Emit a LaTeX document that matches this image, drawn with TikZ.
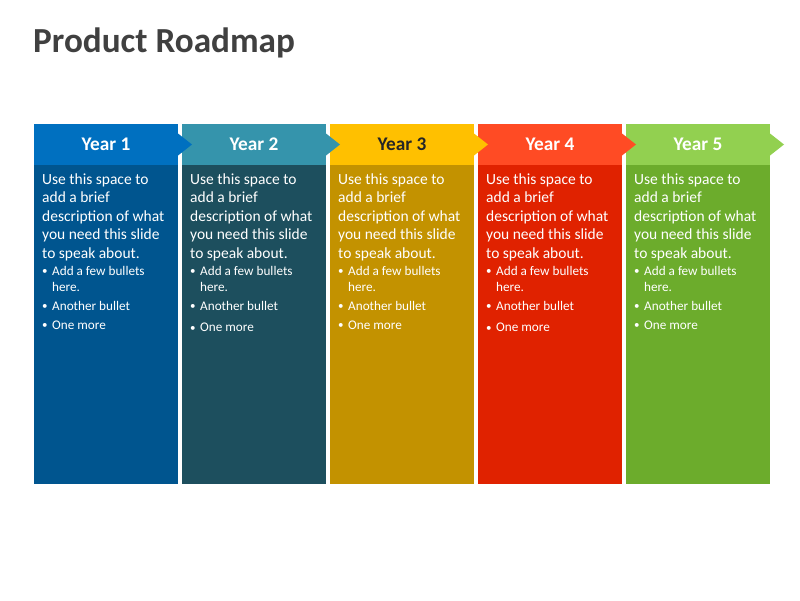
\documentclass[tikz,border=0pt]{standalone}
\usepackage{fontspec}
\setmainfont{Carlito}
\definecolor{titlegray}{HTML}{404040}
\definecolor{h1}{HTML}{0070C0}\definecolor{b1}{HTML}{00558F}
\definecolor{h2}{HTML}{3594AC}\definecolor{b2}{HTML}{1D4F5E}
\definecolor{h3}{HTML}{FFC000}\definecolor{b3}{HTML}{C39200}
\definecolor{h4}{HTML}{FF4B24}\definecolor{b4}{HTML}{E02200}
\definecolor{h5}{HTML}{92D050}\definecolor{b5}{HTML}{6CAC2C}
\definecolor{dark3}{HTML}{262626}
\tikzset{
  bodytxt/.style={anchor=base west, inner sep=0, text=white, font=\fontsize{15.5}{18}\selectfont},
  bullettxt/.style={anchor=base west, inner sep=0, text=white, font=\fontsize{13.2}{15}\selectfont},
  dottxt/.style={anchor=base west, inner sep=0, text=white, font=\fontsize{11}{13}\selectfont},
  yeartxt/.style={anchor=base, inner sep=0, font=\fontsize{19.3}{23}\selectfont\bfseries},
}
\begin{document}
\begin{tikzpicture}[x=1pt,y=-1pt]
\useasboundingbox[fill=white] (0,0) rectangle (800,600);
\node[anchor=base west, inner sep=0, text=titlegray, font=\fontsize{35.2}{40}\selectfont\bfseries] (title) at (33,52) {Product Roadmap};
% columns
\foreach \i/\hc/\bc in {1/h1/b1,2/h2/b2,3/h3/b3,4/h4/b4,5/h5/b5}{
  \pgfmathsetmacro\L{34+148*(\i-1)}
  \fill[\bc] (\L,165) rectangle ++(144,319);
  \fill[\hc] (\L,124) rectangle ++(144,41);
}
% arrow tips
\foreach \i/\hc in {1/h1,2/h2,3/h3,4/h4,5/h5}{
  \pgfmathsetmacro\L{34+148*(\i-1)}
  \fill[\hc] (\L+144,133.5) -- (\L+158,144.5) -- (\L+144,155.5) -- cycle;
}
% texts
\foreach \i/\tc/\om in {1/white/329,2/white/331.5,3/dark3/329,4/white/331.5,5/white/329}{
  \pgfmathsetmacro\L{34+148*(\i-1)}
  \node[yeartxt, text=\tc] (year\i) at (\L+72,150.5) {Year \i};
  \node[bodytxt] (b\i a) at (\L+8,184) {Use this space to};
  \node[bodytxt] (b\i b) at (\L+8,202.5) {add a brief};
  \node[bodytxt] (b\i c) at (\L+8,221) {description of what};
  \node[bodytxt] (b\i d) at (\L+8,239.5) {you need this slide};
  \node[bodytxt] (b\i e) at (\L+8,258) {to speak about.};
  \node[dottxt] (d\i a) at (\L+8,274.5) {•};
  \node[bullettxt] (l\i a) at (\L+18,275) {Add a few bullets};
  \node[bullettxt] (l\i b) at (\L+18,291) {here.};
  \node[dottxt] (d\i c) at (\L+8,309.5) {•};
  \node[bullettxt] (l\i c) at (\L+18,310) {Another bullet};
  \node[dottxt] (d\i d) at (\L+8,\om-0.5) {•};
  \node[bullettxt] (l\i d) at (\L+18,\om) {One more};
}
\end{tikzpicture}
\end{document}
